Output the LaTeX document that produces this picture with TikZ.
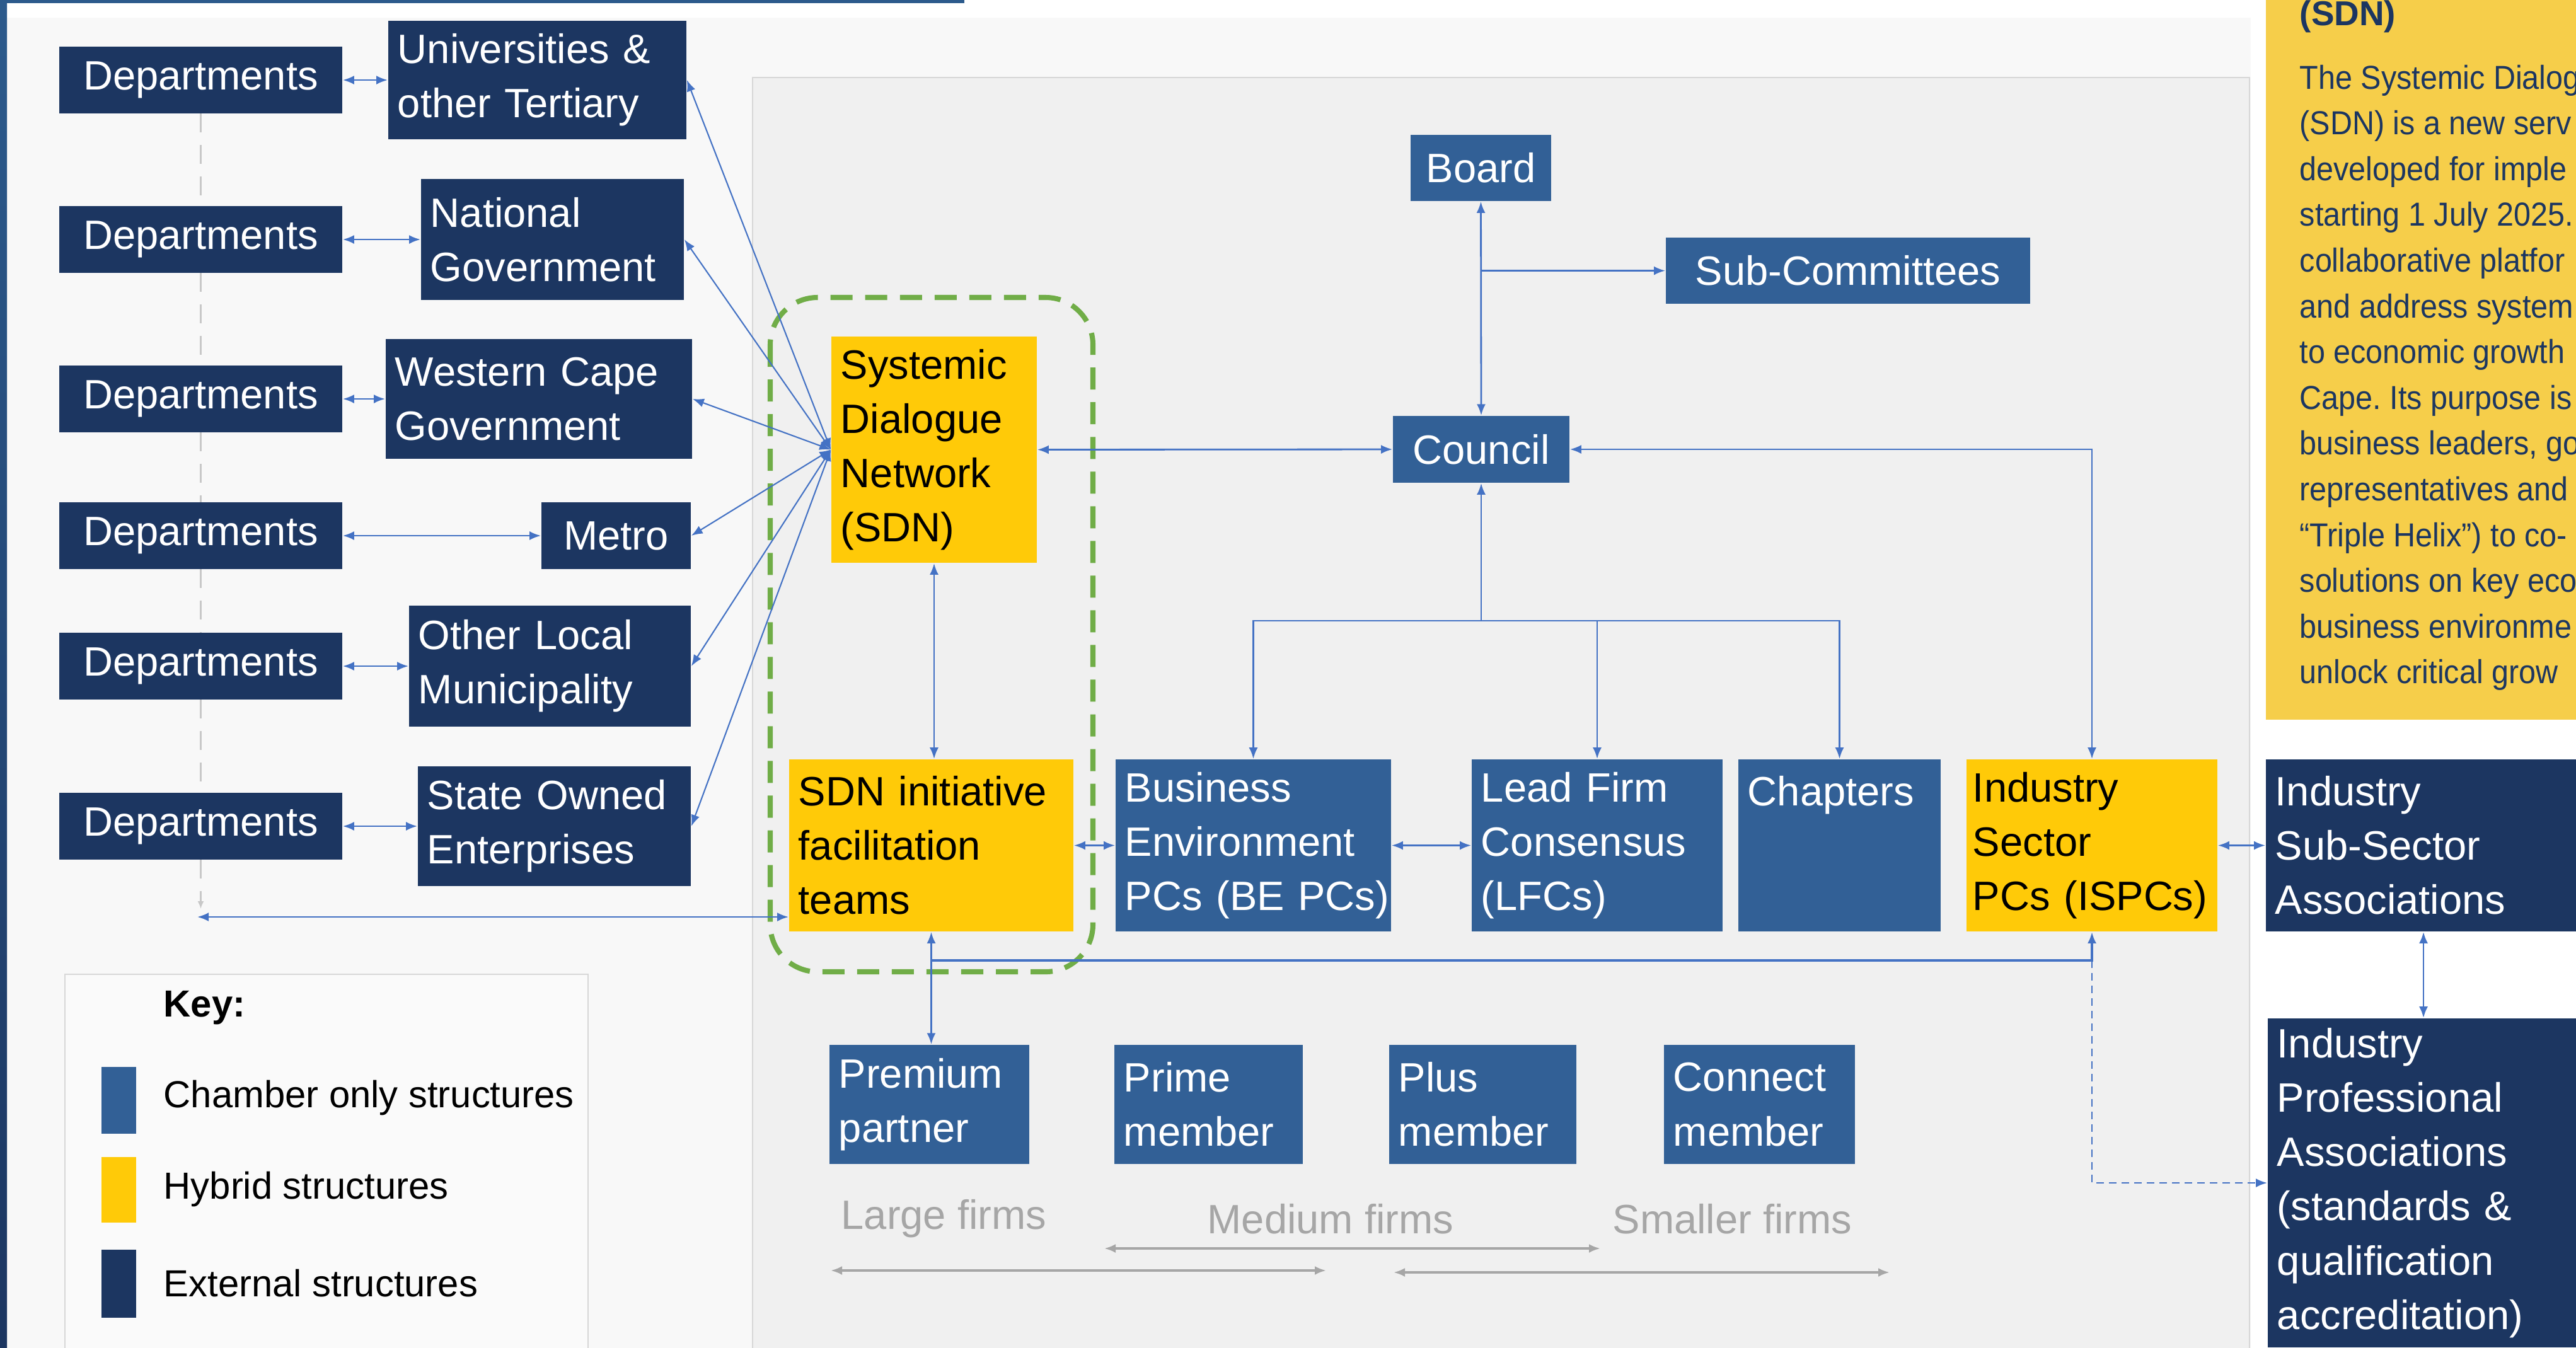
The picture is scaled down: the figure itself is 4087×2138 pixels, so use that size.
\documentclass[tikz,border=0pt]{standalone}
\usepackage{fontspec}
\setmainfont{Liberation Sans}
\newfontfamily\sidefont{Liberation Sans}[FakeStretch=0.92, Ligatures=TeX]
\usetikzlibrary{arrows.meta, positioning}
\hyphenpenalty=10000
\exhyphenpenalty=10000
\frenchspacing

\definecolor{navy}{RGB}{28,54,97}
\definecolor{chamber}{RGB}{50,96,150}
\definecolor{hybrid}{RGB}{255,202,8}
\definecolor{sideyellow}{RGB}{246,206,74}
\definecolor{linkblue}{RGB}{68,114,196}
\definecolor{sdngreen}{RGB}{112,173,71}
\definecolor{firmgray}{RGB}{166,166,166}
\definecolor{bandblue}{RGB}{44,90,140}
\definecolor{panelgray}{RGB}{248,248,248}
\definecolor{innergray}{RGB}{240,240,240}
\definecolor{bordergray}{RGB}{215,215,215}
\definecolor{keywhite}{RGB}{250,250,250}
\definecolor{deplinegray}{RGB}{200,200,200}

\tikzset{
  box/.style={rectangle, inner xsep=0.15cm, inner ysep=0pt, align=left,
    font=\fontsize{18.5}{24.5}\selectfont},
  extbox/.style={box, fill=navy, text=white},
  chambox/.style={box, fill=chamber, text=white},
  hybbox/.style={box, fill=hybrid, text=black},
  deptbox/.style={extbox, align=center, minimum width=4.49cm, minimum height=1.05cm},
  conn/.style={draw=linkblue, line width=0.8pt},
  fan/.style={draw=linkblue, line width=0.6pt},
  depline/.style={draw=deplinegray, line width=0.6pt, dash pattern=on 3mm off 2mm},
  firmarrow/.style={draw=firmgray, line width=1pt},
  firmlabel/.style={text=firmgray, anchor=west, inner sep=0pt, font=\fontsize{18.5}{22}\selectfont},
  keylabel/.style={anchor=west, inner sep=0pt, font=\fontsize{17}{20}\selectfont},
  sidetext/.style={text=navy, anchor=base west, inner sep=0pt, font=\sidefont\fontsize{15}{20}\selectfont}
}

\begin{document}
\begin{tikzpicture}[x=0.01cm, y=-0.01cm, >={Latex[length=1.8mm,width=1.4mm]}]
    \useasboundingbox (0,0) rectangle (4087,2138);

    % Background panels
    \fill[white] (0,0) rectangle (4087,2138);
    \fill[panelgray] (11,28) rectangle (3571,2160);
    \draw[fill=innergray, draw=bordergray, line width=0.8pt] (1194,123) rectangle (3569,2160);
    \fill[bandblue] (0,0) rectangle (1530,5);
    \shade[top color=bandblue, bottom color=navy] (0,0) rectangle (11,2138);
    \fill[sideyellow] (3595,-10) rectangle (4100,1142);
    \draw[fill=keywhite, draw=bordergray, line width=0.8pt] (103,1546) rectangle (933,2160);

    % SDN group outline
    \draw[sdngreen, line width=2.3pt, dash pattern=on 3.5mm off 2mm, rounded corners=0.75cm]
        (1222,472) rectangle (1734,1542);

    % External structures, left side
    \node[deptbox] (dep1) at (318.5,127) {Departments};
    \node[deptbox] (dep2) at (318.5,380) {Departments};
    \node[deptbox] (dep3) at (318.5,633) {Departments};
    \node[deptbox] (dep4) at (318.5,850) {Departments};
    \node[deptbox] (dep5) at (318.5,1057) {Departments};
    \node[deptbox] (dep6) at (318.5,1311) {Departments};

    \node[extbox, text width=4.43cm, minimum height=1.88cm] (univ) at (852.5,127) {Universities~\&\\other~Tertiary};
    \node[extbox, text width=3.87cm, minimum height=1.91cm] (natgov) at (876.5,380) {National\\Government};
    \node[extbox, text width=4.56cm, minimum height=1.89cm] (wcgov) at (855,633) {Western~Cape\\Government};
    \node[extbox, align=center, minimum width=2.37cm, minimum height=1.05cm] (metro) at (977.5,850) {Metro};
    \node[extbox, text width=4.17cm, minimum height=1.91cm] (olm) at (872.5,1057) {Other~Local\\Municipality};
    \node[extbox, text width=4.03cm, minimum height=1.89cm] (soe) at (879.5,1311) {State~Owned\\Enterprises};

    % Chamber and hybrid structures
    \node[hybbox, text width=2.96cm, minimum height=3.59cm] (sdn) at (1482,713.5) {Systemic\\Dialogue\\Network\\(SDN)};
    \node[hybbox, text width=4.21cm, minimum height=2.73cm] (teams) at (1477.5,1341.5) {SDN~initiative\\facilitation\\teams};
    \node[chambox, text width=4.07cm, minimum height=2.73cm] (bepc) at (1988.5,1341.5) {Business\\Environment\\PCs~(BE~PCs)};
    \node[chambox, text width=3.68cm, minimum height=2.73cm] (lfc) at (2534,1341.5) {Lead~Firm\\Consensus\\(LFCs)};
    \node[chambox, text width=2.91cm, minimum height=2.73cm] (chapters) at (2918.5,1341.5) {Chapters\\~\\~};
    \node[hybbox, inner xsep=0.1cm, text width=3.78cm, minimum height=2.73cm] (ispc) at (3319,1341.5) {Industry\\Sector\\\mbox{PCs (ISPCs)}};

    \node[chambox, align=center, minimum width=2.23cm, minimum height=1.05cm] (board) at (2349.5,266.5) {Board};
    \node[chambox, align=center, minimum width=2.80cm, minimum height=1.06cm] (council) at (2350,713) {Council};
    \node[chambox, align=center, minimum width=5.78cm, minimum height=1.05cm] (subcomm) at (2932,429.5) {Sub-Committees};

    \node[chambox, text width=2.87cm, minimum height=1.89cm] (premium) at (1474.5,1752.5) {Premium\\partner};
    \node[chambox, text width=2.69cm, minimum height=1.89cm] (prime) at (1917.5,1752.5) {Prime\\member};
    \node[chambox, text width=2.67cm, minimum height=1.89cm] (plus) at (2352.5,1752.5) {Plus\\member};
    \node[chambox, text width=2.73cm, minimum height=1.89cm] (connect) at (2791.5,1752.5) {Connect\\member};

    % External structures, right side
    \node[extbox, text width=4.95cm, minimum height=2.73cm] (subsec) at (3857.5,1341.5) {Industry\\Sub-Sector\\Associations};
    \node[extbox, text width=4.92cm, minimum height=5.22cm] (prof) at (3859,1877) {Industry\\Professional\\Associations\\(standards~\&\\qualification\\accreditation)};

    % Departments links
    \draw[conn, <->] (dep1.east) -- (univ.west);
    \draw[conn, <->] (dep2.east) -- (natgov.west);
    \draw[conn, <->] (dep3.east) -- (wcgov.west);
    \draw[conn, <->] (dep4.east) -- (metro.west);
    \draw[conn, <->] (dep5.east) -- (olm.west);
    \draw[conn, <->] (dep6.east) -- (soe.west);

    \coordinate (deptail) at (318.5,1442);
    \coordinate (depend) at (313,1455);
    \draw[depline] (dep1.south) -- (dep2.north);
    \draw[depline] (dep2.south) -- (dep3.north);
    \draw[depline] (dep3.south) -- (dep4.north);
    \draw[depline] (dep4.south) -- (dep5.north);
    \draw[depline] (dep5.south) -- (dep6.north);
    \draw[depline, -{Latex[length=1.2mm,width=1mm]}] (dep6.south) -- (deptail);
    \draw[conn, <->] (depend) -- (teams.west |- depend);

    % Fan into the SDN
    \foreach \n in {univ,natgov,wcgov,metro,olm,soe}
        \draw[fan, <->] (\n.east) -- (sdn.west);

    % Governance links
    \draw[conn, <->] (board.south) -- (council.north);
    \draw[conn, ->] (board.south |- subcomm.west) -- (subcomm.west);
    \draw[conn, <->] (sdn.east) -- (council.west);
    \draw[conn, <->] (council.east) -| (ispc.north);
    \draw[conn, <->] (sdn.south) -- (sdn.south |- teams.north);

    \coordinate (split) at (council.south |- 0,985);
    \draw[conn, <-] (council.south) -- (split);
    \draw[conn, ->] (split) -| (bepc.north);
    \draw[conn, ->] (split) -| (lfc.north);
    \draw[conn, ->] (split) -| (chapters.north);

    \draw[conn, <->] (teams.east) -- (bepc.west);
    \draw[conn, <->] (bepc.east) -- (lfc.west);
    \draw[conn, <->] (ispc.east) -- (subsec.west);
    \coordinate (assoc) at (3845,0);
    \draw[conn, <->] (subsec.south -| assoc) -- (prof.north -| assoc);

    % Membership links
    \draw[conn, <->] (teams.south) -- (teams.south |- premium.north);
    \coordinate (busjoin) at (teams.south |- 0,1524);
    \coordinate (ispcjoin) at (ispc.south |- busjoin);
    \draw[conn, line width=1pt, ->] (busjoin) -| (ispc.south);
    \draw[conn, dash pattern=on 1.2mm off 0.8mm, ->] (ispcjoin) |- (prof.west);

    % Firm sizes
    \node[firmlabel] (large) at (1334,1934) {Large firms};
    \node[firmlabel] (medium) at (1915,1934) {Medium firms};
    \node[firmlabel] (smaller) at (2558,1934) {Smaller firms};
    \coordinate (largeL) at (1318,2016);
    \coordinate (largeR) at (2104,2016);
    \coordinate (medL) at (1752,1981);
    \coordinate (medR) at (2539,1981);
    \coordinate (smallL) at (2211,2019);
    \coordinate (smallR) at (2998,2019);
    \draw[firmarrow, <->] (largeL) -- (largeR);
    \draw[firmarrow, <->] (medL) -- (medR);
    \draw[firmarrow, <->] (smallL) -- (smallR);

    % Key
    \node[keylabel, font=\fontsize{17}{20}\selectfont\bfseries] (keytitle) at (259,1599) {Key:};
    \fill[chamber] (161,1693) rectangle (216,1799);
    \node[keylabel] (keychamber) at (259,1742) {Chamber only structures};
    \fill[hybrid] (161,1836) rectangle (216,1940);
    \node[keylabel] (keyhybrid) at (259,1887) {Hybrid structures};
    \fill[navy] (161,1983) rectangle (216,2091);
    \node[keylabel] (keyext) at (259,2036) {External structures};

    % Side panel text
    \node[sidetext, font=\fontsize{15.6}{18}\selectfont\bfseries] (sidehead) at (3648,40) {(SDN)};
    \foreach \txt [count=\i from 0] in {{The Systemic Dialog},{(SDN) is a new serv},{developed for imple},
        {starting 1 July 2025.},{collaborative platfor},{and address system},{to economic growth},
        {Cape. Its purpose is},{business leaders, go},{representatives and},{“Triple Helix”) to co-},
        {solutions on key eco},{business environme},{unlock critical grow}}
        \node[sidetext] (side\i) at (3648,{141+72.6*\i}) {\txt};
\end{tikzpicture}
\end{document}
